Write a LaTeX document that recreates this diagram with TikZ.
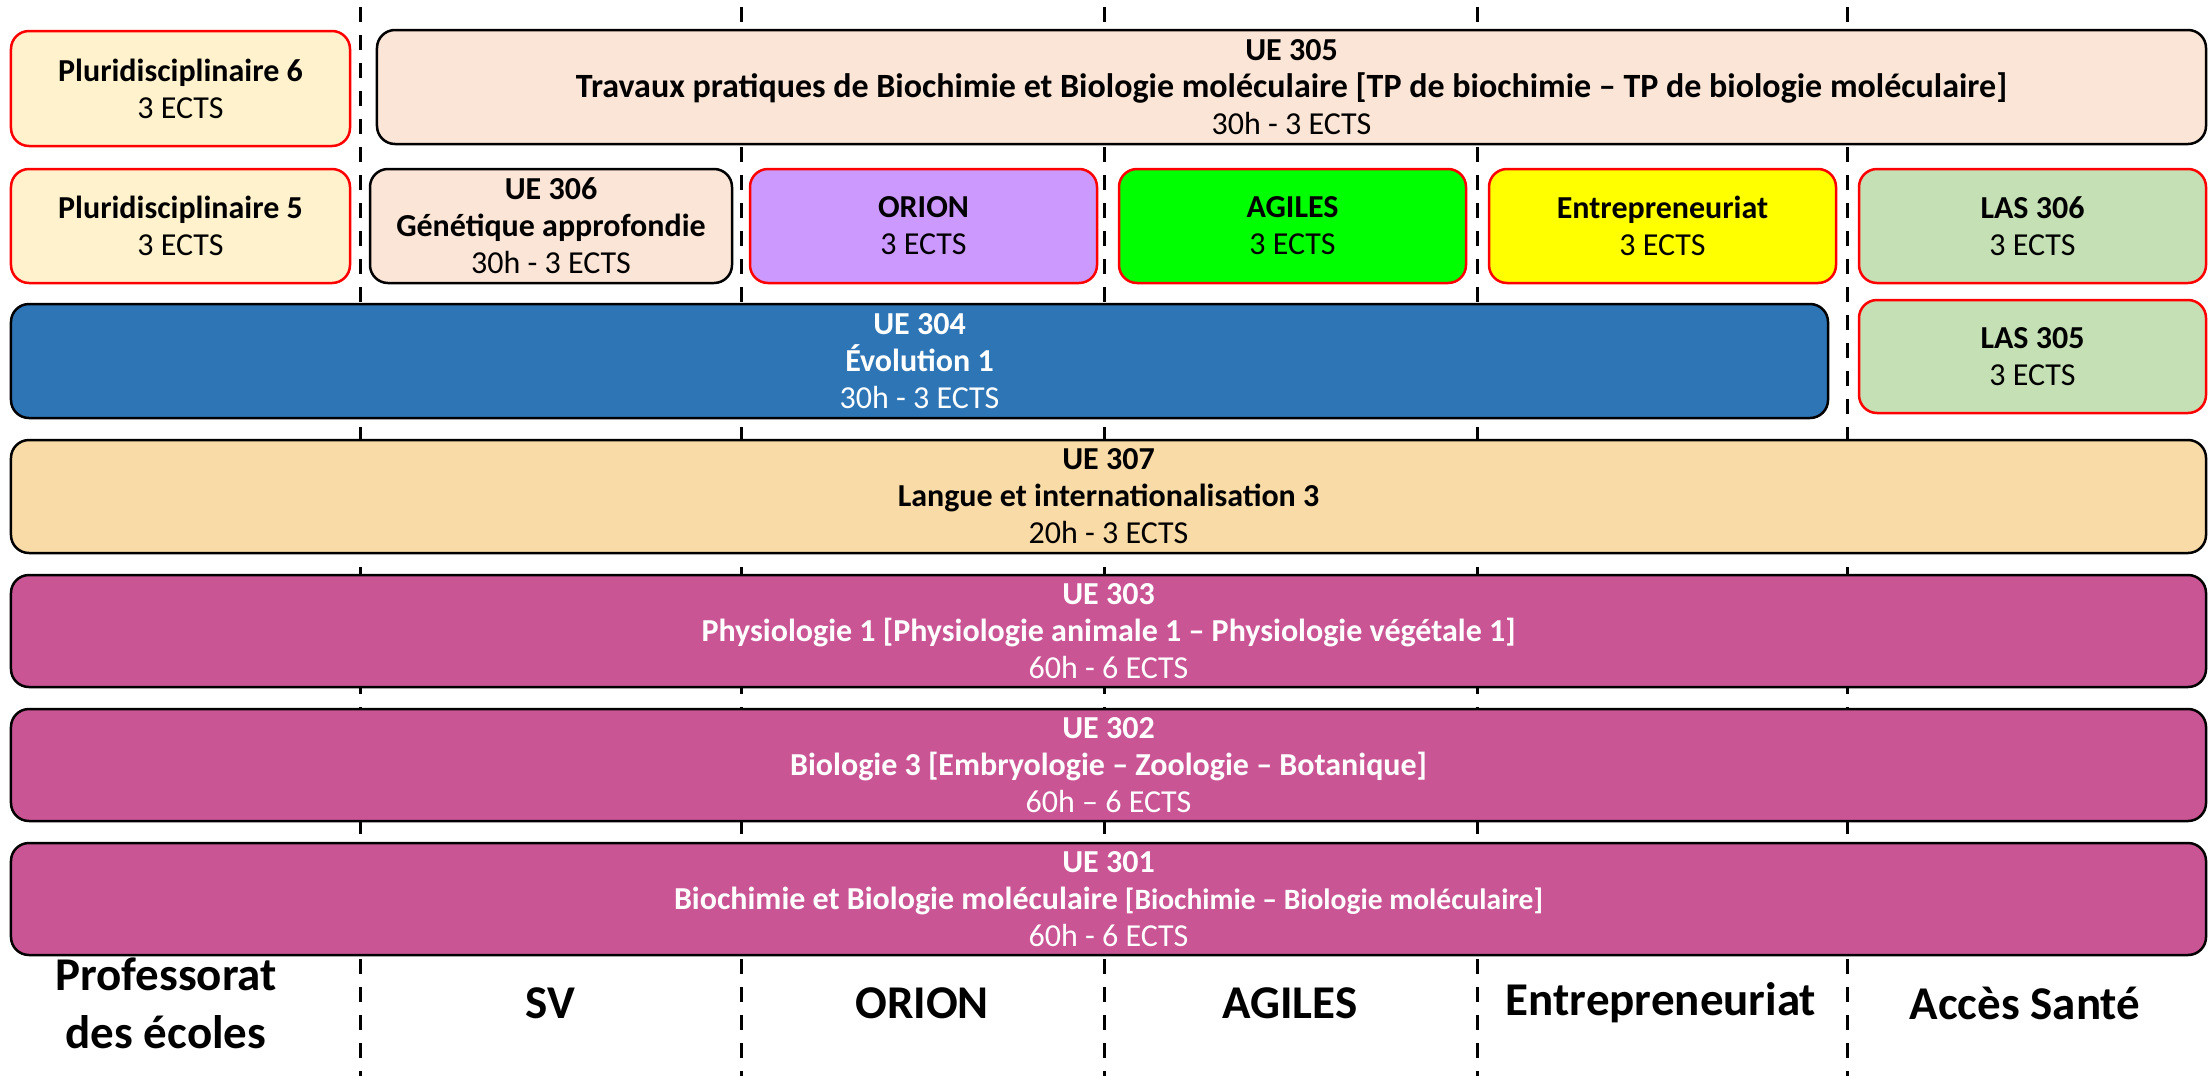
\documentclass[tikz,border=0pt]{standalone}
\usepackage{fontspec}
\setmainfont{Carlito}
\definecolor{pluri}{HTML}{FFF2CC}
\definecolor{peach}{HTML}{FBE5D6}
\definecolor{orionc}{HTML}{CC99FF}
\definecolor{agilesc}{HTML}{00FF00}
\definecolor{entrec}{HTML}{FFFF00}
\definecolor{lasc}{HTML}{C5E0B4}
\definecolor{evoc}{HTML}{2E75B6}
\definecolor{languec}{HTML}{F8DBA6}
\definecolor{uemag}{HTML}{CA5595}
\tikzset{
  ubox/.style={rounded corners=18bp, line width=2.5bp, align=center, inner sep=0pt,
    font=\fontsize{32bp}{37bp}\selectfont},
  redbox/.style={ubox, draw=red},
  blackbox/.style={ubox, draw=black},
  dashline/.style={line width=3bp, dash pattern=on 15bp off 13bp},
  collabel/.style={align=center, font=\fontsize{47bp}{58bp}\selectfont\bfseries},
}
\newcommand{\bigln}[1]{{\fontsize{34bp}{37bp}\selectfont #1}}
\newcommand{\smln}[1]{{\fontsize{29.5bp}{37bp}\selectfont #1}}
\begin{document}
\begin{tikzpicture}[x=1bp,y=-1bp]
\useasboundingbox (0,0) rectangle (2208,1076);
% column separators
\foreach \xx/\nm in {360/a,741/b,1104/c,1477/d,1847/e}{
  \coordinate (top\nm) at (\xx,7);
  \coordinate (bot\nm) at (\xx,1076);
  \draw[dashline] (top\nm) -- (bot\nm);
}
% row 1
\node[redbox, fill=pluri, minimum width=339bp, minimum height=115bp] (pl6) at (180.5,88.5)
  {\textbf{Pluridisciplinaire 6}\\3 ECTS};
\node[blackbox, fill=peach, minimum width=1829bp, minimum height=114bp] (ue305) at (1291.5,87)
  {\textbf{UE 305}\\\textbf{\bigln{Travaux pratiques de Biochimie et Biologie moléculaire [TP de biochimie – TP de biologie moléculaire]}}\\30h - 3 ECTS};
% row 2
\node[redbox, fill=pluri, minimum width=339bp, minimum height=114bp] (pl5) at (180.5,226)
  {\textbf{Pluridisciplinaire 5}\\3 ECTS};
\node[blackbox, fill=peach, minimum width=362bp, minimum height=114bp] (ue306) at (551,226)
  {\textbf{UE 306}\\\textbf{Génétique approfondie}\\30h - 3 ECTS};
\node[redbox, fill=orionc, minimum width=347bp, minimum height=114bp] (orion) at (923.5,226)
  {\textbf{ORION}\\3 ECTS};
\node[redbox, fill=agilesc, minimum width=347bp, minimum height=114bp] (agiles) at (1292.5,226)
  {\textbf{AGILES}\\3 ECTS};
\node[redbox, fill=entrec, minimum width=347bp, minimum height=114bp] (entre) at (1662.5,226)
  {\textbf{Entrepreneuriat}\\3 ECTS};
\node[redbox, fill=lasc, minimum width=347bp, minimum height=114bp] (las306) at (2032.5,226)
  {\textbf{LAS 306}\\3 ECTS};
% row 3
\node[blackbox, fill=evoc, text=white, minimum width=1817bp, minimum height=114bp] (ue304) at (919.5,361)
  {\textbf{UE 304}\\\textbf{Évolution 1}\\30h - 3 ECTS};
\node[redbox, fill=lasc, minimum width=347bp, minimum height=113bp] (las305) at (2032.5,356.5)
  {\textbf{LAS 305}\\3 ECTS};
% row 4
\node[blackbox, fill=languec, minimum width=2195bp, minimum height=113bp] (ue307) at (1108.5,496.5)
  {\textbf{UE 307}\\\textbf{Langue et internationalisation 3}\\20h - 3 ECTS};
% rows 5-7
\node[blackbox, fill=uemag, text=white, minimum width=2195bp, minimum height=112bp] (ue303) at (1108.5,631)
  {\textbf{UE 303}\\\textbf{Physiologie 1 [Physiologie animale 1 – Physiologie végétale 1]}\\60h - 6 ECTS};
\node[blackbox, fill=uemag, text=white, minimum width=2195bp, minimum height=112bp] (ue302) at (1108.5,765)
  {\textbf{UE 302}\\\textbf{Biologie 3 [Embryologie – Zoologie – Botanique]}\\60h – 6 ECTS};
\node[blackbox, fill=uemag, text=white, minimum width=2195bp, minimum height=112bp] (ue301) at (1108.5,899)
  {\textbf{UE 301}\\\textbf{Biochimie et Biologie moléculaire \smln{[Biochimie – Biologie moléculaire]}}\\60h - 6 ECTS};
% column labels
\node[collabel] (lpe) at (166,1003) {Professorat\\des écoles};
\node[collabel] (lsv) at (550,1003) {SV};
\node[collabel] (lor) at (922,1003) {ORION};
\node[collabel] (lag) at (1290,1003) {AGILES};
\node[collabel] (len) at (1661,1003) {Entrepreneuriat};
\node[collabel] (las) at (2025,1003) {Accès Santé};
\end{tikzpicture}
\end{document}
